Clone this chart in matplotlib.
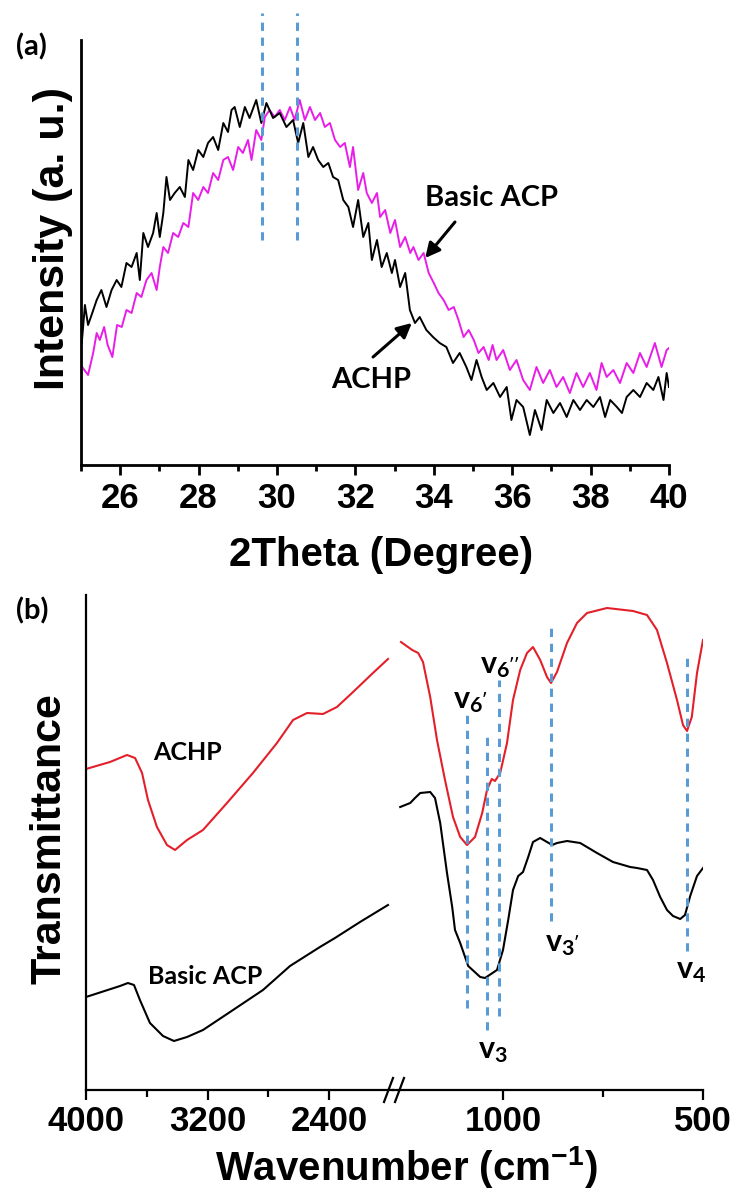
import matplotlib
matplotlib.use('Agg')
import matplotlib.pyplot as plt
from matplotlib.ticker import FixedLocator, NullLocator

plt.rcParams['font.family'] = 'Liberation Sans'
plt.rcParams['font.weight'] = 'bold'
plt.rcParams['mathtext.fontset'] = 'custom'
plt.rcParams['mathtext.rm'] = 'Lato:bold'
plt.rcParams['mathtext.it'] = 'Lato:bold'
plt.rcParams['mathtext.bf'] = 'Liberation Sans:bold'

# ---- (a) XRD patterns ----
achp_2theta = [25.02, 25.10, 25.18, 25.27, 25.40, 25.52, 25.65, 25.78, 25.91, 26.03,
               26.16, 26.29, 26.42, 26.50, 26.59, 26.71, 26.84, 26.93, 27.01, 27.10,
               27.18, 27.27, 27.39, 27.52, 27.65, 27.74, 27.86, 27.99, 28.12, 28.24,
               28.37, 28.50, 28.63, 28.75, 28.84, 28.92, 29.05, 29.18, 29.30, 29.47,
               29.60, 29.73, 29.90, 30.07, 30.24, 30.41, 30.54, 30.67, 30.80, 30.92,
               31.05, 31.18, 31.31, 31.43, 31.56, 31.69, 31.82, 31.94, 32.07, 32.20,
               32.33, 32.42, 32.55, 32.67, 32.80, 32.93, 33.01, 33.14, 33.27, 33.39,
               33.52, 33.64, 33.81, 33.98, 34.15, 34.32, 34.49, 34.66, 34.83, 34.96,
               35.09, 35.22, 35.35, 35.52, 35.69, 35.86, 35.98, 36.11, 36.28, 36.45,
               36.58, 36.75, 36.88, 37.05, 37.22, 37.39, 37.56, 37.73, 37.90, 38.07,
               38.24, 38.37, 38.50, 38.67, 38.80, 38.92, 39.09, 39.26, 39.43, 39.60,
               39.73, 39.86, 39.94, 40.00]
achp_int = [122, 160, 140, 150, 165, 175, 158, 175, 185, 178,
            202, 198, 212, 185, 232, 218, 232, 252, 228, 252,
            288, 265, 272, 278, 268, 305, 295, 315, 308, 322,
            328, 315, 342, 333, 355, 358, 338, 358, 347, 365,
            342, 362, 347, 352, 338, 345, 322, 342, 308, 318,
            305, 298, 302, 288, 285, 265, 258, 238, 265, 228,
            242, 205, 225, 198, 212, 192, 205, 178, 192, 155,
            142, 148, 135, 128, 122, 118, 102, 112, 98, 85,
            105, 88, 75, 82, 68, 78, 45, 65, 58, 30,
            55, 35, 65, 52, 62, 48, 65, 55, 65, 58,
            68, 48, 65, 58, 52, 68, 75, 68, 82, 75,
            88, 65, 92, 78]

acp_2theta = [25.03, 25.18, 25.31, 25.40, 25.48, 25.59, 25.68, 25.80, 25.92, 26.04,
              26.16, 26.29, 26.42, 26.54, 26.67, 26.80, 26.93, 27.01, 27.10, 27.22,
              27.35, 27.48, 27.61, 27.74, 27.86, 27.99, 28.12, 28.24, 28.37, 28.50,
              28.63, 28.75, 28.88, 29.01, 29.13, 29.26, 29.35, 29.47, 29.60, 29.69,
              29.81, 29.94, 30.07, 30.20, 30.33, 30.45, 30.58, 30.71, 30.84, 30.97,
              31.10, 31.22, 31.35, 31.48, 31.61, 31.73, 31.86, 31.94, 32.07, 32.20,
              32.29, 32.42, 32.55, 32.63, 32.76, 32.89, 33.01, 33.14, 33.27, 33.40,
              33.48, 33.61, 33.74, 33.87, 34.00, 34.12, 34.25, 34.38, 34.51, 34.63,
              34.76, 34.89, 35.02, 35.14, 35.27, 35.40, 35.50, 35.60, 35.77, 35.94,
              36.11, 36.28, 36.45, 36.62, 36.79, 36.96, 37.13, 37.30, 37.47, 37.64,
              37.81, 37.98, 38.15, 38.28, 38.41, 38.58, 38.75, 38.92, 39.09, 39.26,
              39.43, 39.64, 39.81, 39.94, 40.00]
acp_int = [98, 90, 112, 132, 125, 138, 120, 108, 140, 138,
           155, 152, 172, 168, 185, 192, 175, 198, 218, 212,
           232, 228, 242, 238, 272, 265, 278, 272, 292, 285,
           305, 308, 295, 318, 312, 325, 305, 335, 325, 348,
           355, 348, 355, 345, 358, 345, 365, 345, 358, 345,
           352, 338, 342, 325, 318, 322, 298, 318, 275, 292,
           272, 262, 272, 248, 255, 232, 245, 218, 228, 212,
           218, 205, 212, 192, 182, 172, 165, 155, 158, 145,
           128, 135, 125, 112, 118, 105, 120, 105, 115, 95,
           105, 85, 75, 98, 82, 95, 78, 88, 72, 92,
           78, 92, 75, 102, 88, 95, 82, 102, 92, 112,
           98, 122, 98, 115, 117]

xrd_marks = [29.62, 30.51]

# ---- (b) FTIR spectra, high (4000-2000) and low (1275-500) wavenumber parts ----
achp_wn_hi = [4000, 3842, 3730, 3677, 3631, 3592, 3533, 3467, 3414, 3335, 3230,
              3072, 2901, 2743, 2637, 2545, 2440, 2348, 2242, 2111, 2012]
achp_t_hi = [321, 328, 335, 332, 317, 290, 263, 245, 240, 250, 260,
             287, 317, 347, 370, 377, 376, 383, 398, 417, 431]
acp_wn_hi = [4000, 3776, 3724, 3684, 3645, 3579, 3493, 3421, 3335, 3230,
             3032, 2835, 2657, 2460, 2361, 2196, 2012]
acp_t_hi = [93, 104, 107, 105, 90, 67, 54, 49, 53, 60,
            80, 100, 124, 143, 152, 168, 185]

achp_wn_lo = [1255, 1227, 1212, 1200, 1182, 1165, 1145, 1125, 1107, 1090, 1070,
              1052, 1040, 1028, 1020, 1007, 990, 975, 957, 940, 925, 907, 890,
              880, 865, 840, 815, 790, 740, 675, 640, 615, 590, 565, 550, 540,
              528, 515, 500]
achp_t_lo = [448, 440, 437, 428, 393, 350, 310, 273, 253, 245, 253,
             277, 300, 311, 309, 317, 347, 390, 420, 437, 443, 430, 413,
             407, 418, 447, 467, 477, 482, 479, 475, 460, 427, 390, 365, 359,
             373, 417, 450]
acp_wn_lo = [1257, 1232, 1220, 1207, 1182, 1170, 1157, 1140, 1127, 1120, 1107,
             1087, 1057, 1045, 1015, 1000, 987, 975, 962, 950, 937, 925, 907,
             890, 877, 865, 840, 807, 765, 725, 682, 665, 640, 625, 607, 590,
             575, 557, 545, 532, 515, 500]
acp_t_lo = [283, 287, 292, 297, 298, 292, 267, 217, 183, 160, 147,
            124, 113, 112, 120, 140, 170, 200, 214, 218, 233, 248, 252,
            248, 245, 247, 249, 247, 237, 228, 223, 222, 220, 210, 193, 180,
            174, 171, 175, 194, 214, 222]

band_pos = [1090, 1040, 1010, 880, 540]
band_top = [377, 353, 410, 467, 433]
band_bot = [82, 60, 74, 169, 139]
band_names = [r"$v_{6'}$", r"$v_3$", r"$v_{6''}$", r"$v_{3'}$", r"$v_4$"]

W, H = 737, 1193
fig = plt.figure(figsize=(W / 100, H / 100), dpi=100)


def box(x0, y0, x1, y1):
    # pixel rectangle -> figure fraction
    return [x0 / W, 1 - y1 / H, (x1 - x0) / W, (y1 - y0) / H]


dash_blue = '#5b9bd5'
dash_style = (0, (2.7, 2.2))
arrow = dict(arrowstyle='-|>', color='black', lw=2.2, mutation_scale=22,
             shrinkA=0, shrinkB=0)

# ---------------- (a) ----------------
ax_a = fig.add_axes(box(81, 40, 669, 465))
ax_a.plot(acp_2theta, acp_int, color='#e81ee8', lw=1.4, zorder=2)
ax_a.plot(achp_2theta, achp_int, color='black', lw=1.4, zorder=3)
for xm in xrd_marks:
    ax_a.plot([xm, xm], [225, 452], color=dash_blue, lw=2.2, ls=dash_style,
              clip_on=False, zorder=4)
ax_a.set_xlim(25, 40)
ax_a.set_ylim(0, 425)
ax_a.xaxis.set_major_locator(FixedLocator(range(26, 41, 2)))
ax_a.xaxis.set_minor_locator(FixedLocator(range(25, 41, 2)))
ax_a.yaxis.set_major_locator(NullLocator())
for s in ['top', 'right']:
    ax_a.spines[s].set_visible(False)
for s in ['left', 'bottom']:
    ax_a.spines[s].set_linewidth(2.0)
ax_a.tick_params(axis='x', which='major', length=7, width=2, labelsize=25, pad=5)
ax_a.tick_params(axis='x', which='minor', length=4, width=2)

ax_a.text(35.48, 267, 'Basic ACP', ha='center', va='center', fontsize=21,
          family='Lato')
ax_a.annotate('', xy=(33.78, 207), xytext=(34.54, 243), arrowprops=arrow)
ax_a.text(32.40, 85, 'ACHP', ha='center', va='center', fontsize=21,
          family='Lato')
ax_a.annotate('', xy=(33.44, 142), xytext=(32.45, 108), arrowprops=arrow)

fig.text(53 / W, 1 - 238 / H, 'Intensity (a. u.)', rotation=90,
         ha='center', va='center', fontsize=31)
fig.text(381 / W, 1 - 555 / H, '2Theta (Degree)', ha='center', va='center',
         fontsize=29)
fig.text(31 / W, 1 - 47 / H, '(a)', ha='center', va='center', fontsize=21,
         family='Lato')

# ---------------- (b) ----------------
ax_l = fig.add_axes(box(86, 595, 393, 1090))
ax_r = fig.add_axes(box(393, 595, 703, 1090))

ax_l.plot(achp_wn_hi, achp_t_hi, color='#e3202a', lw=1.5)
ax_l.plot(acp_wn_hi, acp_t_hi, color='black', lw=1.5)
ax_r.plot(achp_wn_lo, achp_t_lo, color='#e3202a', lw=1.5)
ax_r.plot(acp_wn_lo, acp_t_lo, color='black', lw=1.5)
for wn, top, bot in zip(band_pos, band_top, band_bot):
    ax_r.plot([wn, wn], [bot, top], color=dash_blue, lw=2.2, ls=dash_style,
              zorder=4)

ax_l.set_xlim(4000, 1979)
ax_r.set_xlim(1275, 500)
for ax in (ax_l, ax_r):
    ax.set_ylim(0, 495)
    ax.yaxis.set_major_locator(NullLocator())
    ax.spines['top'].set_visible(False)
    ax.spines['right'].set_visible(False)
    ax.spines['bottom'].set_linewidth(1.6)
    ax.spines['left'].set_linewidth(1.6)
    ax.patch.set_alpha(0)
    ax.tick_params(axis='x', which='major', length=7, width=1.6,
                   labelsize=25, pad=4)
    ax.tick_params(axis='x', which='minor', length=5, width=1.6)
ax_r.spines['left'].set_visible(False)

ax_l.xaxis.set_major_locator(FixedLocator([4000, 3200, 2400]))
ax_l.xaxis.set_minor_locator(FixedLocator([3600, 2800]))
ax_r.xaxis.set_major_locator(FixedLocator([1000, 500]))
ax_r.xaxis.set_minor_locator(FixedLocator([750]))

# axis break marks
for dx in (-9, 2):
    ax_r.plot([dx / 310, (dx + 9) / 310], [-12 / 495, 12 / 495],
              transform=ax_r.transAxes, color='black', lw=1.6, clip_on=False)

ax_l.text(3329, 338, 'ACHP', ha='center', va='center', fontsize=18,
          family='Lato')
ax_l.text(3217, 114, 'Basic ACP', ha='center', va='center', fontsize=18,
          family='Lato')

band_text_xy = [(1082, 390), (1025, 40), (1007, 425), (852, 147), (530, 120)]
for name, (tx, ty) in zip(band_names, band_text_xy):
    ax_r.text(tx, ty, name, ha='center', va='center', fontsize=22)

fig.text(50 / W, 1 - 839 / H, 'Transmittance', rotation=90,
         ha='center', va='center', fontsize=31)
fig.text(406 / W, 1 - 1168 / H, r'Wavenumber (cm$^{\mathbf{-1}}$)',
         ha='center', va='center', fontsize=29)
fig.text(32 / W, 1 - 611 / H, '(b)', ha='center', va='center', fontsize=21,
         family='Lato')

fig.savefig('out.png', dpi=100)
